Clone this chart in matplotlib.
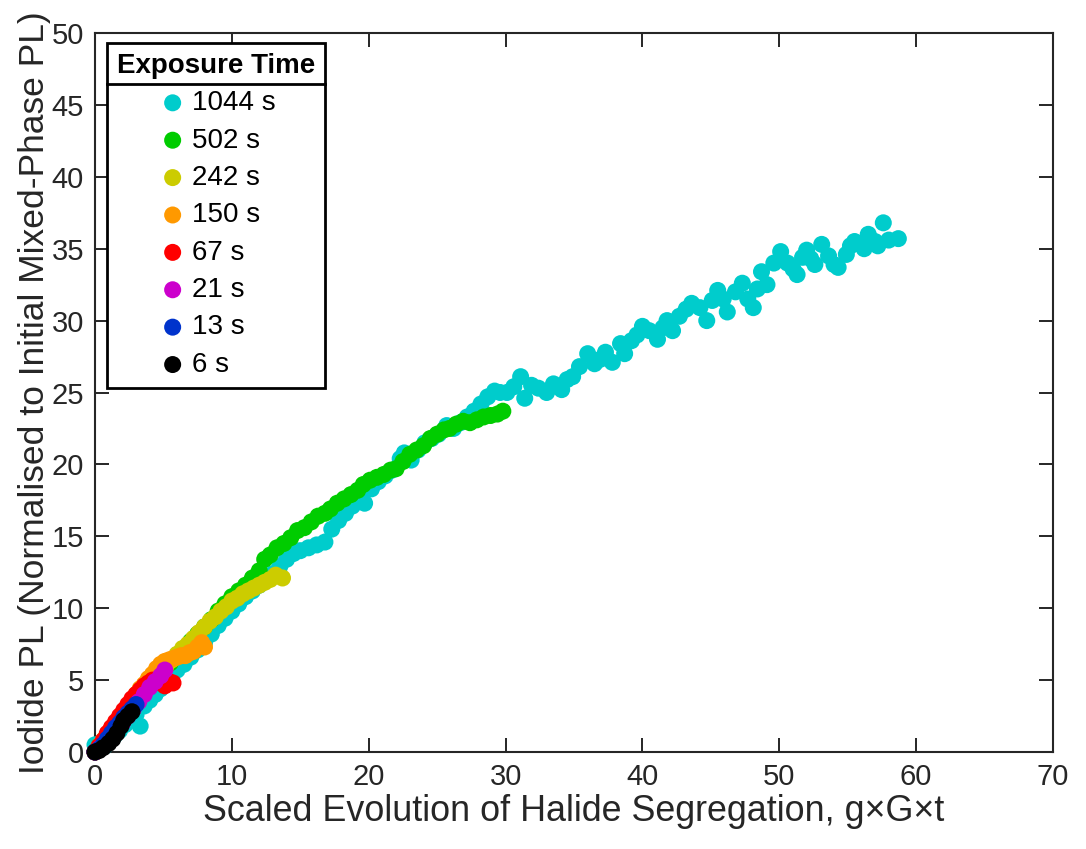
import matplotlib
matplotlib.use("Agg")
import matplotlib.pyplot as plt
from matplotlib.lines import Line2D

plt.rcParams['font.family'] = ['Liberation Sans', 'DejaVu Sans']

# ---------------- data ----------------
labels = ["1044 s", "502 s", "242 s", "150 s", "67 s", "21 s", "13 s", "6 s"]
colors = ["#00CCCC", "#00CC00", "#CCCC00", "#FF9900", "#FF0000", "#CC00CC", "#0033CC", "#000000"]

x_1044 = [0.0, 0.3, 0.7, 1.0, 1.4, 1.8, 2.2, 2.6, 3.0, 3.3, 3.6, 4.0, 4.4, 4.8, 5.2, 5.6, 6.0, 6.5,
          7.0, 7.5, 8.0, 8.5, 9.0, 9.5, 10.0, 10.5, 11.0, 11.5, 12.0, 12.5, 13.0, 13.5, 14.0, 14.5,
          15.0, 15.6, 16.2, 16.8, 17.3, 17.8, 18.3, 18.8, 19.3, 19.7, 20.2, 20.7, 21.2, 21.7, 22.3,
          22.6, 23.1, 23.6, 24.1, 24.6, 25.1, 25.7, 26.2, 26.7, 27.2, 27.7, 28.2, 28.7, 29.2, 29.6,
          30.1, 30.6, 31.1, 31.4, 31.9, 32.4, 33.0, 33.5, 34.1, 34.5, 34.9, 35.4, 36.0, 36.5, 36.9,
          37.3, 37.8, 38.4, 38.7, 39.2, 39.6, 40.0, 40.5, 41.1, 41.5, 41.8, 42.2, 42.7, 43.2, 43.6,
          44.2, 44.7, 45.1, 45.5, 45.9, 46.2, 46.8, 47.3, 47.7, 48.1, 48.4, 48.7, 49.1, 49.6, 50.1,
          50.6, 51.0, 51.3, 51.7, 52.0, 52.3, 52.6, 53.1, 53.6, 54.0, 54.3, 54.9, 55.2, 55.5, 55.9,
          56.2, 56.5, 57.0, 57.2, 57.6, 58.0, 58.7]
y_1044 = [0.5, 0.2, 0.4, 0.8, 1.1, 1.5, 1.9, 2.3, 2.6, 1.8, 3.2, 3.6, 4.0, 4.4, 4.8, 5.2, 5.7, 6.1,
          6.6, 7.1, 7.6, 8.2, 8.8, 9.3, 9.8, 10.3, 10.8, 11.2, 11.6, 12.0, 12.4, 12.9, 13.4, 13.8,
          14.0, 14.2, 14.4, 14.6, 15.5, 16.1, 16.6, 17.1, 17.6, 17.3, 18.3, 18.8, 19.2, 19.6, 20.4,
          20.8, 20.3, 21.0, 21.5, 21.8, 22.1, 22.7, 22.5, 22.9, 23.3, 23.7, 24.2, 24.7, 25.1, 25.0,
          25.0, 25.4, 26.1, 24.6, 25.5, 25.3, 25.0, 25.6, 25.2, 25.9, 26.1, 26.8, 27.7, 27.0, 27.3,
          27.8, 27.1, 28.4, 27.7, 28.6, 29.0, 29.6, 29.3, 28.7, 29.5, 30.0, 29.3, 30.3, 30.8, 31.2,
          30.9, 30.0, 31.4, 32.1, 31.5, 30.6, 32.0, 32.6, 31.5, 30.9, 32.2, 33.4, 32.5, 34.0, 34.8,
          34.0, 33.6, 33.2, 34.4, 34.9, 34.3, 33.9, 35.3, 34.5, 33.9, 33.7, 34.6, 35.2, 35.5, 35.3,
          35.0, 36.0, 35.5, 35.2, 36.8, 35.6, 35.7]

x_502 = [0.0, 0.3, 0.7, 1.1, 1.5, 2.0, 2.5, 3.0, 3.5, 4.0, 4.5, 5.0, 5.5, 6.0, 6.5, 7.0, 7.5, 8.0,
         8.5, 9.0, 9.5, 10.0, 10.5, 11.0, 11.5, 12.0, 12.4, 12.8, 13.3, 13.8, 14.3, 14.8, 15.3, 15.8,
         16.3, 16.8, 17.2, 17.7, 18.2, 18.7, 19.2, 19.6, 20.1, 20.6, 21.1, 21.6, 22.0, 22.5, 23.0,
         23.5, 24.0, 24.5, 25.0, 25.5, 25.9, 26.4, 26.9, 27.4, 27.9, 28.4, 28.9, 29.4, 29.8]
y_502 = [0.0, 0.4, 0.9, 1.4, 1.9, 2.4, 3.0, 3.5, 4.1, 4.6, 5.2, 5.7, 6.2, 6.7, 7.2, 7.7, 8.2, 8.7,
         9.2, 9.8, 10.3, 10.8, 11.2, 11.6, 12.1, 12.6, 13.4, 13.7, 14.2, 14.5, 14.9, 15.4, 15.6, 16.0,
         16.4, 16.6, 16.9, 17.3, 17.6, 17.9, 18.2, 18.6, 18.9, 19.1, 19.3, 19.6, 19.7, 20.2, 20.7,
         21.0, 21.3, 21.8, 22.1, 22.4, 22.5, 22.8, 23.0, 22.9, 23.1, 23.3, 23.4, 23.5, 23.7]

x_242 = [0.0, 0.4, 0.8, 1.2, 1.6, 2.0, 2.4, 2.8, 3.2, 3.6, 4.0, 4.4, 4.8, 5.2, 5.6, 6.0, 6.4, 6.8,
         7.2, 7.6, 8.0, 8.4, 8.8, 9.2, 9.6, 10.0, 10.4, 10.8, 11.2, 11.6, 12.0, 12.4, 12.8, 13.2, 13.7]
y_242 = [0.0, 0.5, 1.0, 1.5, 2.0, 2.5, 3.0, 3.4, 3.9, 4.3, 4.8, 5.2, 5.6, 6.0, 6.4, 6.8, 7.2, 7.5,
         7.9, 8.3, 8.7, 9.1, 9.4, 9.8, 10.1, 10.5, 10.7, 11.0, 11.2, 11.4, 11.6, 11.8, 12.0, 12.3, 12.1]

x_150 = [0.0, 0.3, 0.6, 0.9, 1.2, 1.5, 1.8, 2.1, 2.4, 2.7, 3.0, 3.3, 3.6, 3.9, 4.2, 4.5, 4.8, 5.1,
         5.4, 5.7, 6.0, 6.3, 6.6, 6.9, 7.2, 7.5, 7.8, 8.0]
y_150 = [0.0, 0.4, 0.8, 1.2, 1.6, 2.0, 2.4, 2.8, 3.2, 3.6, 4.0, 4.4, 4.7, 5.1, 5.4, 5.8, 6.1, 6.3,
         6.4, 6.5, 6.6, 6.7, 6.7, 6.9, 7.0, 7.3, 7.6, 7.3]

x_67 = [0.0, 0.3, 0.6, 0.9, 1.2, 1.5, 1.8, 2.1, 2.4, 2.7, 3.0, 3.3, 3.6, 3.9, 4.2, 4.5, 4.8, 5.1, 5.4, 5.7]
y_67 = [0.0, 0.4, 0.8, 1.3, 1.7, 2.1, 2.5, 2.9, 3.3, 3.7, 4.0, 4.3, 4.6, 4.8, 5.0, 4.9, 4.8, 4.6, 4.9, 4.8]

x_21 = [0.0, 0.4, 0.8, 1.2, 1.6, 2.0, 2.4, 2.8, 3.2, 3.6, 4.0, 4.4, 4.8, 5.1]
y_21 = [0.0, 0.3, 0.7, 1.1, 1.5, 2.0, 2.5, 3.0, 3.5, 4.0, 4.5, 4.9, 5.3, 5.7]

x_13 = [0.0, 0.3, 0.6, 0.9, 1.2, 1.5, 1.8, 2.1, 2.4, 2.7, 3.0]
y_13 = [0.0, 0.2, 0.5, 0.9, 1.3, 1.7, 2.0, 2.4, 2.7, 3.0, 3.3]

x_6 = [0.0, 0.3, 0.6, 1.0, 1.3, 1.6, 1.9, 2.1, 2.4, 2.7]
y_6 = [0.0, 0.1, 0.3, 0.6, 0.9, 1.3, 1.8, 2.2, 2.5, 2.8]

xs = [x_1044, x_502, x_242, x_150, x_67, x_21, x_13, x_6]
ys = [y_1044, y_502, y_242, y_150, y_67, y_21, y_13, y_6]

x_ticks = [0, 10, 20, 30, 40, 50, 60, 70]
y_ticks = [0, 5, 10, 15, 20, 25, 30, 35, 40, 45, 50]

# ---------------- figure ----------------
W, H = 1086, 849
fig = plt.figure(figsize=(W / 100, H / 100), dpi=100)
ax = fig.add_axes([95 / W, 1 - 752 / H, (1053 - 95) / W, (752 - 33) / H])

txt = "#262626"

for x, y, c, lab in zip(xs, ys, colors, labels):
    ax.scatter(x, y, s=150, color=c, edgecolors='none', label=lab, clip_on=False, zorder=3)

ax.set_xlim(0, 70)
ax.set_ylim(0, 50)
ax.set_xticks(x_ticks)
ax.set_yticks(y_ticks)
ax.tick_params(direction='in', length=10, width=1.4, colors=txt, labelsize=21,
               top=True, right=True, pad=8)
for sp in ax.spines.values():
    sp.set_linewidth(1.5)
    sp.set_color(txt)

ax.set_xlabel("Scaled Evolution of Halide Segregation, g\u00d7G\u00d7t", fontsize=25.8, color=txt, labelpad=2)
ax.set_ylabel("Iodide PL (Normalised to Initial Mixed-Phase PL)", fontsize=25.5, color=txt, labelpad=0)

leg = ax.legend(loc='upper left', bbox_to_anchor=(107 / W, 1 - 43 / H), bbox_transform=fig.transFigure,
                borderaxespad=0, frameon=True, fancybox=False, edgecolor='black',
                title="Exposure Time", title_fontproperties={'weight': 'bold', 'size': 20},
                fontsize=20, handletextpad=0.1, handlelength=1.2, labelspacing=0.41,
                borderpad=0.35, scatterpoints=1)
leg.get_frame().set_linewidth(2.0)
leg.get_frame().set_alpha(1)
leg.set_zorder(5)

fig.canvas.draw()
r = fig.canvas.get_renderer()
fb = leg.get_frame().get_window_extent(r)
tb = leg.get_title().get_window_extent(r)
ysep = tb.y0 - 5
line = Line2D([fb.x0, fb.x1], [ysep, ysep], transform=None, color='black', lw=2.0, zorder=6)
fig.add_artist(line)

fig.savefig("out.png", dpi=100)
